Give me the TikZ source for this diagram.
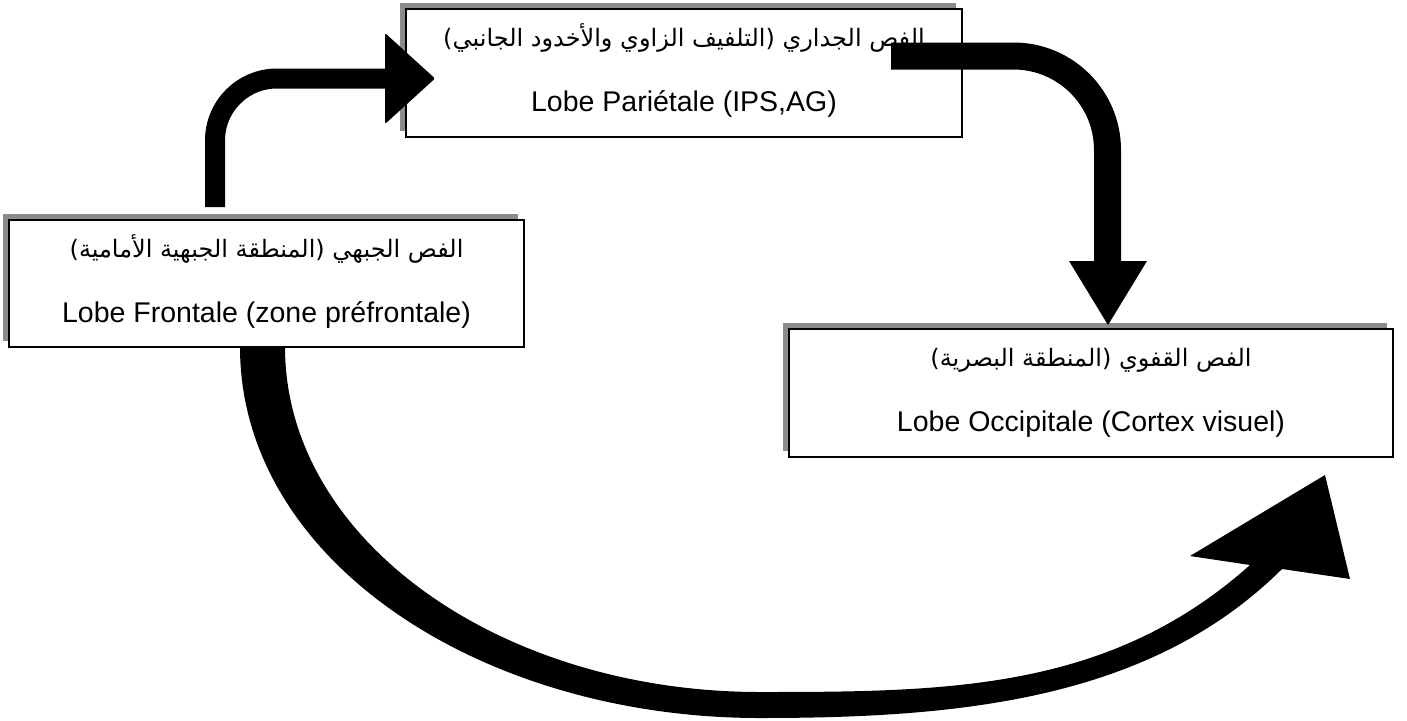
\documentclass[tikz,border=0pt]{standalone}
\usepackage{fontspec}
\setmainfont{Liberation Sans}
\newfontfamily\arabicfont[Script=Arabic]{DejaVu Sans}
\TeXXeTstate=1
\usetikzlibrary{shadows}
\begin{document}
\begin{tikzpicture}[x=1pt,y=-1pt,
  box/.style={draw=black, line width=2pt, fill=white, inner sep=0pt,
    general shadow={shadow xshift=-6pt, shadow yshift=6pt, fill=black!45}},
  lat/.style={font=\fontsize{28.5}{34}\selectfont, anchor=base, inner sep=0pt},
  arb/.style={font=\arabicfont\fontsize{24}{30}\selectfont, anchor=base, inner sep=0pt}]
\useasboundingbox (0,0) rectangle (1407,720);

% bottom curved arrow (drawn first, under the boxes)
\coordinate (c1) at (240,330);
\coordinate (c2) at (285,330);
\fill (c1) -- (240,347) .. controls (240,560) and (480,718) .. (760,718)
  .. controls (960,718) and (1150,700) .. (1282,569) -- (1350,579) -- (1325,475)
  -- (1190,556) -- (1250,565) .. controls (1110,690) and (950,692) .. (760,692)
  .. controls (500,692) and (285,540) .. (285,347) -- (c2) -- cycle;

% boxes
\node[box, minimum width=556pt, minimum height=128pt] (P) at (684,73) {};
\node[box, minimum width=515pt, minimum height=127pt] (F) at (266.5,283.5) {};
\node[box, minimum width=604pt, minimum height=128pt] (O) at (1091,393) {};

% texts
\node[arb] (Pa) at (684,46) {\beginR الفص الجداري (التلفيف الزاوي والأخدود الجانبي)\endR};
\node[lat] (Pl) at (684,111) {Lobe Pariétale (IPS,AG)};
\node[arb] (Fa) at (266.5,257) {\beginR الفص الجبهي (المنطقة الجبهية الأمامية)\endR};
\node[lat] (Fl) at (266.5,322) {Lobe Frontale (zone préfrontale)};
\node[arb] (Oa) at (1091,366) {\beginR الفص القفوي (المنطقة البصرية)\endR};
\node[lat] (Ol) at (1091,431) {Lobe Occipitale (Cortex visuel)};

% left bent arrow F -> P
\coordinate (a1) at (215,207);
\coordinate (a2) at (215,78.5);
\coordinate (a3) at (388,78.5);
\draw[line width=20pt, rounded corners=62pt] (a1) -- (a2) -- (a3);
\fill[rounded corners=2pt] (385,33) -- (435,78.5) -- (385,124) -- cycle;

% right bent arrow P -> O
\coordinate (b1) at (891,56);
\coordinate (b2) at (1107.5,56);
\coordinate (b3) at (1107.5,263);
\draw[line width=27pt, rounded corners=94pt] (b1) -- (b2) -- (b3);
\fill (1069,261) -- (1147,261) -- (1108,325) -- cycle;
\end{tikzpicture}
\end{document}
